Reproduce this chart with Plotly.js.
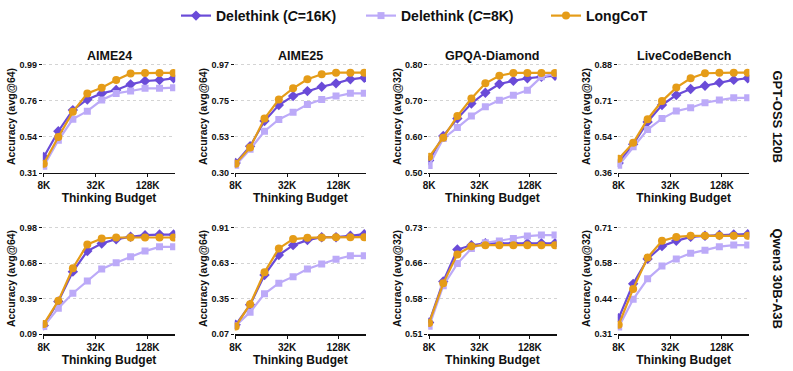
<!DOCTYPE html>
<html>
<head>
<meta charset="utf-8">
<script src="https://cdn.plot.ly/plotly-3.0.1.min.js"></script>
<style>html,body{margin:0;padding:0;background:#fff}#chart{width:793px;height:371px}</style>
</head>
<body>
<div id="chart"></div>
<script>
// Thinking budget (in K tokens) for each evaluated point
const budgets = [8, 11.8, 17.4, 25.6, 37.6, 55.3, 81.3, 119.6, 176, 256];

const benchmarks = ["AIME24", "AIME25", "GPQA-Diamond", "LiveCodeBench"];
const yTitles = ["Accuracy (avg@64)", "Accuracy (avg@64)", "Accuracy (avg@32)", "Accuracy (avg@32)"];
const models = ["GPT-OSS 120B", "Qwen3 30B-A3B"];

// GPT-OSS 120B
const oss_aime24_d16 = [0.411, 0.573, 0.706, 0.773, 0.811, 0.832, 0.868, 0.889, 0.895, 0.906];
const oss_aime24_d8  = [0.352, 0.516, 0.649, 0.699, 0.769, 0.811, 0.826, 0.843, 0.843, 0.847];
const oss_aime24_lc  = [0.368, 0.537, 0.695, 0.811, 0.847, 0.895, 0.937, 0.940, 0.940, 0.940];

const oss_aime25_d16 = [0.362, 0.466, 0.622, 0.721, 0.777, 0.808, 0.835, 0.856, 0.881, 0.891];
const oss_aime25_d8  = [0.348, 0.447, 0.559, 0.632, 0.676, 0.725, 0.756, 0.777, 0.794, 0.794];
const oss_aime25_lc  = [0.358, 0.458, 0.638, 0.756, 0.825, 0.881, 0.912, 0.922, 0.922, 0.922];

const oss_gpqa_d16 = [0.535, 0.603, 0.651, 0.693, 0.723, 0.747, 0.756, 0.763, 0.767, 0.770];
const oss_gpqa_d8  = [0.521, 0.596, 0.626, 0.658, 0.684, 0.702, 0.716, 0.730, 0.767, 0.776];
const oss_gpqa_lc  = [0.545, 0.598, 0.658, 0.707, 0.749, 0.770, 0.778, 0.778, 0.778, 0.778];

const oss_lcb_d16 = [0.408, 0.498, 0.606, 0.687, 0.735, 0.764, 0.780, 0.795, 0.808, 0.816];
const oss_lcb_d8  = [0.397, 0.486, 0.569, 0.622, 0.658, 0.674, 0.698, 0.711, 0.722, 0.722];
const oss_lcb_lc  = [0.429, 0.505, 0.619, 0.706, 0.771, 0.816, 0.840, 0.843, 0.843, 0.843];

// Qwen3 30B-A3B
const qwen_aime24_d16 = [0.162, 0.363, 0.613, 0.785, 0.849, 0.885, 0.905, 0.919, 0.924, 0.924];
const qwen_aime24_d8  = [0.154, 0.307, 0.432, 0.535, 0.635, 0.688, 0.738, 0.785, 0.821, 0.821];
const qwen_aime24_lc  = [0.173, 0.368, 0.641, 0.841, 0.891, 0.899, 0.899, 0.899, 0.899, 0.899];

const qwen_aime25_d16 = [0.143, 0.301, 0.537, 0.695, 0.773, 0.813, 0.836, 0.836, 0.847, 0.860];
const qwen_aime25_d8  = [0.136, 0.243, 0.388, 0.472, 0.524, 0.584, 0.624, 0.661, 0.689, 0.689];
const qwen_aime25_lc  = [0.130, 0.306, 0.558, 0.747, 0.821, 0.831, 0.834, 0.836, 0.836, 0.836];

const qwen_gpqa_d16 = [0.534, 0.619, 0.685, 0.694, 0.698, 0.698, 0.698, 0.698, 0.698, 0.698];
const qwen_gpqa_d8  = [0.526, 0.610, 0.656, 0.687, 0.699, 0.703, 0.708, 0.713, 0.715, 0.715];
const qwen_gpqa_lc  = [0.533, 0.615, 0.675, 0.692, 0.694, 0.694, 0.694, 0.694, 0.694, 0.694];

const qwen_lcb_d16 = [0.370, 0.499, 0.593, 0.641, 0.661, 0.676, 0.680, 0.683, 0.685, 0.686];
const qwen_lcb_d8  = [0.336, 0.441, 0.518, 0.566, 0.593, 0.614, 0.626, 0.639, 0.645, 0.645];
const qwen_lcb_lc  = [0.345, 0.480, 0.598, 0.661, 0.676, 0.680, 0.680, 0.680, 0.680, 0.680];

// y tick labels (bottom to top) per panel
const yTicks = [
  ["0.31", "0.54", "0.76", "0.99"], ["0.30", "0.53", "0.75", "0.97"],
  ["0.50", "0.60", "0.70", "0.80"], ["0.36", "0.54", "0.71", "0.88"],
  ["0.09", "0.39", "0.68", "0.98"], ["0.07", "0.35", "0.63", "0.91"],
  ["0.51", "0.58", "0.66", "0.73"], ["0.31", "0.44", "0.58", "0.71"]
];
const xTickVals = [8, 32, 128];
const xTickText = ["8K", "32K", "128K"];

const panels = [
  [oss_aime24_d16, oss_aime24_d8, oss_aime24_lc],
  [oss_aime25_d16, oss_aime25_d8, oss_aime25_lc],
  [oss_gpqa_d16, oss_gpqa_d8, oss_gpqa_lc],
  [oss_lcb_d16, oss_lcb_d8, oss_lcb_lc],
  [qwen_aime24_d16, qwen_aime24_d8, qwen_aime24_lc],
  [qwen_aime25_d16, qwen_aime25_d8, qwen_aime25_lc],
  [qwen_gpqa_d16, qwen_gpqa_d8, qwen_gpqa_lc],
  [qwen_lcb_d16, qwen_lcb_d8, qwen_lcb_lc]
];

const seriesNames = ["Delethink (<i>C</i>=16K)", "Delethink (<i>C</i>=8K)", "LongCoT"];
const seriesColors = ["#6a4bd8", "#bcaaf8", "#e59c18"];
const seriesSymbols = ["diamond", "square", "circle"];
const seriesSizes = [8, 7, 8];

const FONT = "Liberation Sans, Arial, sans-serif";
const colDomains = [[0.054, 0.221], [0.296, 0.4615], [0.540, 0.702], [0.779, 0.945]];
const rowDomains = [[0.5337, 0.8383], [0.0997, 0.399]];

const traces = [];
const layout = {
  width: 793, height: 371,
  margin: {l: 0, r: 0, t: 0, b: 0},
  paper_bgcolor: "#fff", plot_bgcolor: "#fff",
  font: {family: FONT, size: 10, color: "#111", weight: "bold"},
  showlegend: true,
  legend: {
    orientation: "h", x: 176 / 793, xanchor: "left", y: 1.0, yanchor: "top",
    font: {family: FONT, size: 14, color: "#111", weight: "bold"},
    itemwidth: 30, entrywidth: 140, entrywidthmode: "pixels",
    tracegroupgap: 0, bgcolor: "rgba(0,0,0,0)"
  },
  annotations: []
};

panels.forEach((series, p) => {
  const row = Math.floor(p / 4), col = p % 4;
  const idx = p + 1;
  const xa = idx === 1 ? "x" : "x" + idx;
  const ya = idx === 1 ? "y" : "y" + idx;
  series.forEach((vals, s) => {
    traces.push({
      type: "scatter", mode: "lines+markers",
      x: budgets, y: vals, xaxis: xa, yaxis: ya,
      name: seriesNames[s], legendgroup: "s" + s, showlegend: p === 0,
      line: {color: seriesColors[s], width: 2.2},
      marker: {color: seriesColors[s], symbol: seriesSymbols[s], size: seriesSizes[s]},
      hoverinfo: "skip"
    });
  });
  const labels = yTicks[p];
  const lo = parseFloat(labels[0]), hi = parseFloat(labels[labels.length - 1]);
  const tv = labels.map((_, i) => lo + (hi - lo) * i / (labels.length - 1));
  layout["xaxis" + (idx === 1 ? "" : idx)] = {
    domain: colDomains[col], anchor: ya, type: "log",
    range: [Math.log10(7.8), Math.log10(268)],
    tickvals: xTickVals, ticktext: xTickText,
    ticks: "outside", ticklen: 3, tickwidth: 1, tickcolor: "#111",
    showline: true, linecolor: "#111", linewidth: 1.5, showgrid: false, zeroline: false,
    tickfont: {family: FONT, size: 10, color: "#111", weight: "bold"},
    title: {text: "Thinking Budget", standoff: 1, font: {family: FONT, size: 12, color: "#111", weight: "bold"}}
  };
  layout["yaxis" + (idx === 1 ? "" : idx)] = {
    domain: rowDomains[row], anchor: xa,
    range: [lo, hi + (hi - lo) * 0.046],
    tickvals: tv, ticktext: labels,
    ticks: "outside", ticklen: 3, tickwidth: 1, tickcolor: "#111",
    showline: false, zeroline: false,
    showgrid: true, gridcolor: "#d4d4d4", griddash: "dot", gridwidth: 1,
    tickfont: {family: FONT, size: 9, color: "#111", weight: "bold"},
    title: {text: yTitles[col], standoff: 1, font: {family: FONT, size: 10.5, color: "#111", weight: "bold"}}
  };
  if (row === 0) {
    layout.annotations.push({
      text: benchmarks[col], xref: "paper", yref: "paper",
      x: (colDomains[col][0] + colDomains[col][1]) / 2, y: 1 - 56 / 371,
      xanchor: "center", yanchor: "middle", showarrow: false,
      font: {family: FONT, size: 12.5, color: "#111", weight: "bold"}
    });
  }
});

models.forEach((m, r) => {
  layout.annotations.push({
    text: m, xref: "paper", yref: "paper",
    x: 778 / 793, y: (rowDomains[r][0] + rowDomains[r][1]) / 2,
    xanchor: "center", yanchor: "middle", showarrow: false, textangle: 90,
    font: {family: FONT, size: 13, color: "#111", weight: "bold"}
  });
});

Plotly.newPlot("chart", traces, layout, {staticPlot: true, displayModeBar: false});
</script>
</body>
</html>
